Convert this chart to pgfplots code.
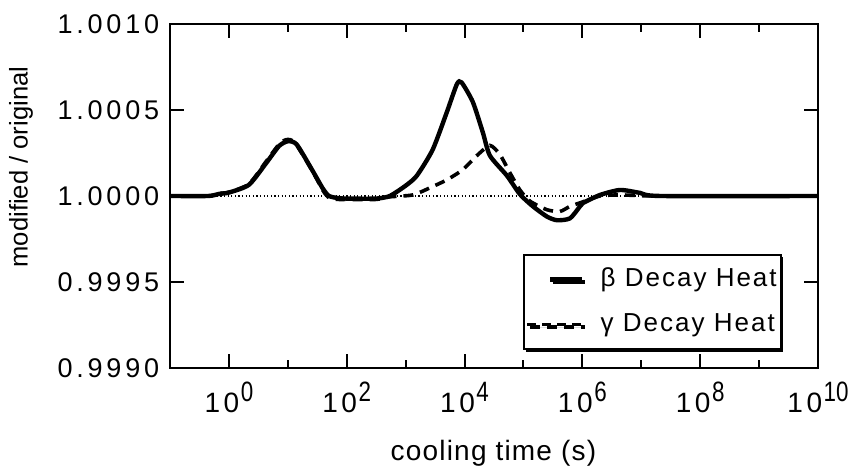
\documentclass[border=0pt]{standalone}
\usepackage{fontspec}
\setmainfont{Liberation Sans}
\usepackage{graphicx}
\usepackage{pgfplots}
\pgfplotsset{compat=1.18}
\usetikzlibrary{shadows}
\ExplSyntaxOn
\tl_new:N \l_my_in_tl
\cs_new_protected:Npn \mytrafo #1
  {
    \tl_set:Nx \l_my_in_tl {#1}
    \tl_if_in:NnTF \l_my_in_tl {Y}
      { \exp_last_unbraced:NV \__my_fromfpu:w \l_my_in_tl \q_stop }
      { \tl_set:Nx \pgfmathresult { \fp_to_decimal:n { ( \l_my_in_tl - 1 ) * 10000 } } }
  }
\cs_new_protected:Npn \__my_fromfpu:w #1 Y #2 ] #3 \q_stop
  { \tl_set:Nx \pgfmathresult { \fp_to_decimal:n { ( #2 - 1 ) * 10000 } } }
\dim_new:N \l_my_sp_dim
\seq_new:N \l_my_words_seq
\bool_new:N \l_my_first_bool
\cs_new_protected:Npn \spc #1#2
  {
    \dim_set:Nn \l_my_sp_dim {#1}
    \seq_set_split:Nnn \l_my_words_seq { ~ } {#2}
    \bool_set_true:N \l_my_first_bool
    \seq_map_inline:Nn \l_my_words_seq
      {
        \bool_if:NF \l_my_first_bool { \skip_horizontal:n { 0.278em } }
        \bool_set_false:N \l_my_first_bool
        \tl_map_inline:nn {##1} { ####1 \kern \l_my_sp_dim }
      }
  }
\ExplSyntaxOff
\newcommand\ys[1]{{\fontsize{13.5}{15}\selectfont\spc{1.9pt}{#1}}}
\newcommand\tp[1]{{\fontsize{14}{16}\selectfont\spc{1.8pt}{10}\kern-1pt\raisebox{5.5pt}{\scalebox{0.8}[1]{#1}}}}
\pgfplotsset{
  solidleg/.style={legend image code/.code={\draw[##1] (11.5pt,0pt) -- (27.5pt,0pt);}},
  dashleg/.style={legend image code/.code={\draw[##1, dash pattern=on 4.5pt off 3pt] (0pt,0pt) -- (27.5pt,0pt);}},
}
\begin{document}
\begin{tikzpicture}
\begin{axis}[
  name=ax, scale only axis, width=324pt, height=172pt,
  xmode=log, xmin=0.1, xmax=1e10,
  y coord trafo/.code={\mytrafo{#1}},
  ymin=0.999, ymax=1.001,
  axis line style={line width=1pt},
  every tick/.style={black, line width=1pt},
  major tick length=7pt, minor tick length=4pt,
  tick align=inside,
  xtick={1,1e2,1e4,1e6,1e8,1e10},
  xticklabels={\tp{0},\tp{2},\tp{4},\tp{6},\tp{8},\tp{10}},
  minor xtick={10,1e3,1e5,1e7,1e9},
  ytick={0.999,0.9995,1,1.0005,1.001},
  yticklabels={\ys{0.9990},\ys{0.9995},\ys{1.0000},\ys{1.0005},\ys{1.0010}},
  xticklabel style={anchor=base, yshift=-22.5pt},
  yticklabel style={anchor=east},
  xlabel={\spc{0.6pt}{cooling time (s)}},
  ylabel={modified / original},
  every axis x label/.style={at={(rel axis cs:0.5,-0.247)}, anchor=center, font=\fontsize{14}{16}\selectfont},
  every axis y label/.style={at={(rel axis cs:-0.23,0.584)}, rotate=90, anchor=center, font=\fontsize{12.8}{15}\selectfont},
  legend cell align=left,
  legend style={at={(0.944,0.052)}, anchor=south east, draw=black, line width=1pt, fill=white,
    drop shadow={shadow xshift=1.2pt, shadow yshift=-1.2pt, fill=black, opacity=1},
    inner xsep=1pt, inner ysep=6pt, row sep=10pt,
    nodes={inner xsep=0pt, inner ysep=0pt, text height=9.5pt, text depth=3pt},
    font=\fontsize{13}{15}\selectfont,
    /tikz/every odd column/.append style={column sep=8pt}},
]
\addplot[black, line width=0.6pt, dash pattern=on 0.6pt off 1.2pt, forget plot]
  coordinates {(0.1,1) (1e10,1)};
\addplot[black, line width=2.2pt, smooth, tension=0.4, solidleg]
  coordinates {
  (0.1,1.000000) (0.447,1.000000) (0.676,1.000012) (1,1.000020)
  (2.188,1.000065) (4.266,1.000190) (7.079,1.000290) (10,1.000318)
  (14.13,1.000300) (25.70,1.000153) (39.81,1.000040) (50.12,1.000000)
  (70.79,0.999988) (100,0.999985) (316.2,0.999985) (537.0,1.000000)
  (1000,1.000060) (1549,1.000118) (2884,1.000270) (5012,1.000488)
  (7413,1.000650) (8913,1.000660) (13800,1.000547) (20420,1.000370)
  (26920,1.000235) (52480,1.000118) (87100,1.000010) (144500,0.999940)
  (251200,0.999880) (371500,0.999859) (616600,0.999870) (912000,0.999940)
  (1.023e6,0.999959) (1.995e6,1.000006) (4.365e6,1.000035) (9.55e6,1.000018)
  (2.138e7,1.000000) (1e10,1.000000)
  };
\addlegendentry{\spc{1pt}{β Decay Heat}}
\addplot[black, line width=1.8pt, dash pattern=on 5pt off 3.5pt, smooth, tension=0.4, dashleg]
  coordinates {
  (0.1,1.000000) (0.447,1.000000) (0.676,1.000015) (1,1.000022)
  (2.188,1.000070) (4.266,1.000200) (7.079,1.000300) (9.55,1.000328)
  (13.18,1.000310) (25.70,1.000150) (39.81,1.000030) (50.12,0.999990)
  (70.79,0.999980) (100,0.999980) (316.2,0.999980) (537.0,0.999995)
  (1318,1.000006) (2570,1.000047) (5012,1.000094) (9333,1.000153)
  (16220,1.000235) (26920,1.000294) (39810,1.000241) (58880,1.000135)
  (87100,1.000035) (128800,0.999970) (251200,0.999920) (416900,0.999910)
  (616600,0.999940) (912000,0.999960) (1.995e6,1.000000) (4.365e6,1.000006)
  (1e7,1.000002) (2.138e7,1.000000) (1e10,1.000000)
  };
\addlegendentry{\spc{1pt}{γ Decay Heat}}
\end{axis}
\pgfresetboundingbox
\path ([shift={(-85pt,-52.5pt)}]ax.south west) rectangle ([shift={(18.5pt,12pt)}]ax.north east);
\end{tikzpicture}
\end{document}
